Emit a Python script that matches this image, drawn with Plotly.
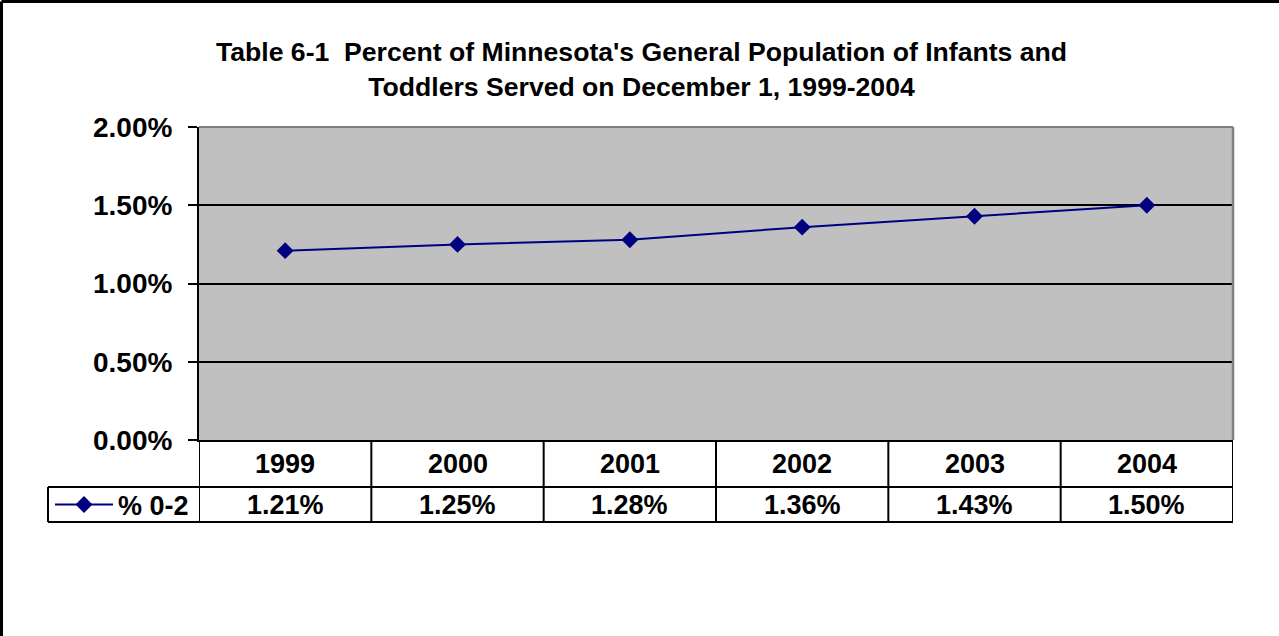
import plotly.graph_objects as go

years = ["1999", "2000", "2001", "2002", "2003", "2004"]
pct_0_2 = [1.21, 1.25, 1.28, 1.36, 1.43, 1.50]
series_name = "% 0-2"
y_ticks = [0.0, 0.5, 1.0, 1.5, 2.0]

W, H = 1279, 636
L, R, T, B = 199, 1233, 127, 440  # plot area in pixels
FONT = "Arial, Liberation Sans, sans-serif"


def px_x(px):
    return (px - L) / (R - L)


def px_y(py):
    return (B - py) / (B - T)


fig = go.Figure()
fig.add_trace(go.Scatter(
    x=list(range(len(years))), y=pct_0_2, name=series_name,
    mode="lines+markers",
    line=dict(color="#000080", width=2),
    marker=dict(symbol="diamond", size=13, color="#000080"),
    showlegend=True,
))

shapes = []
black = dict(color="black", width=2)
# gray border on top and right of plot area
shapes.append(dict(type="line", xref="paper", yref="paper", x0=0, x1=1, y0=1, y1=1,
                   line=dict(color="#808080", width=2)))
shapes.append(dict(type="line", xref="paper", yref="paper", x0=1, x1=1, y0=0, y1=1,
                   line=dict(color="#808080", width=2.5)))

# data table grid
row1 = px_y(487)
row2 = px_y(522)
shapes.append(dict(type="line", xref="paper", yref="paper", x0=px_x(48), x1=1, y0=row1, y1=row1, line=black))
shapes.append(dict(type="line", xref="paper", yref="paper", x0=px_x(48), x1=1, y0=row2, y1=row2, line=black))
shapes.append(dict(type="line", xref="paper", yref="paper", x0=px_x(48), x1=px_x(48), y0=row1, y1=row2, line=black))
for i in range(len(years) + 1):
    shapes.append(dict(type="line", xref="x", yref="paper", x0=i - 0.5, x1=i - 0.5,
                       y0=0, y1=row2, line=black))

# outer chart border (left and top visible)
shapes.append(dict(type="line", xref="paper", yref="paper", x0=px_x(1.5), x1=px_x(1400),
                   y0=px_y(1.5), y1=px_y(1.5), line=dict(color="black", width=3)))
shapes.append(dict(type="line", xref="paper", yref="paper", x0=px_x(1.5), x1=px_x(1.5),
                   y0=px_y(1.5), y1=px_y(700), line=dict(color="black", width=3)))

annotations = []
for i, (yr, v) in enumerate(zip(years, pct_0_2)):
    annotations.append(dict(x=i, y=px_y(464), xref="x", yref="paper", text=yr, showarrow=False,
                            yanchor="middle", xanchor="center",
                            font=dict(family=FONT, size=27, color="black", weight="bold")))
    annotations.append(dict(x=i, y=px_y(505), xref="x", yref="paper", text=f"{v:.2f}%", showarrow=False,
                            yanchor="middle", xanchor="center",
                            font=dict(family=FONT, size=27, color="black", weight="bold")))

annotations.append(dict(
    x=px_x(641), y=px_y(69), xref="paper", yref="paper", showarrow=False,
    xanchor="center", yanchor="middle",
    text="Table 6-1  Percent of Minnesota's General Population of Infants and<br>"
         "Toddlers Served on December 1, 1999-2004",
    font=dict(family=FONT, size=26.6, color="black", weight="bold"),
))

fig.update_layout(
    width=W, height=H,
    margin=dict(l=L, r=W - R, t=T, b=H - B, pad=0),
    paper_bgcolor="white",
    plot_bgcolor="#C0C0C0",
    shapes=shapes,
    annotations=annotations,
    showlegend=True,
    legend=dict(
        x=px_x(50), y=px_y(505), xanchor="left", yanchor="middle",
        bgcolor="rgba(0,0,0,0)", itemwidth=58,
        font=dict(family=FONT, size=27, color="black", weight="bold"),
    ),
    xaxis=dict(
        range=[-0.5, len(years) - 0.5], showticklabels=False, showgrid=False,
        zeroline=False, showline=True, linecolor="black", linewidth=2, ticks="",
    ),
    yaxis=dict(
        range=[0, 2.0], tickvals=y_ticks, ticktext=[f"{t:.2f}%" for t in y_ticks],
        showgrid=True, gridcolor="black", gridwidth=2, zeroline=False,
        showline=True, linecolor="black", linewidth=2,
        ticks="outside", ticklen=9, tickwidth=2, tickcolor="black",
        tickfont=dict(family=FONT, size=28, color="black", weight="bold"),
        ticklabelstandoff=10,
    ),
)

fig.write_html("out.html", config={"displayModeBar": False},
               post_script="document.body.style.margin='0';document.body.style.overflow='hidden';")
